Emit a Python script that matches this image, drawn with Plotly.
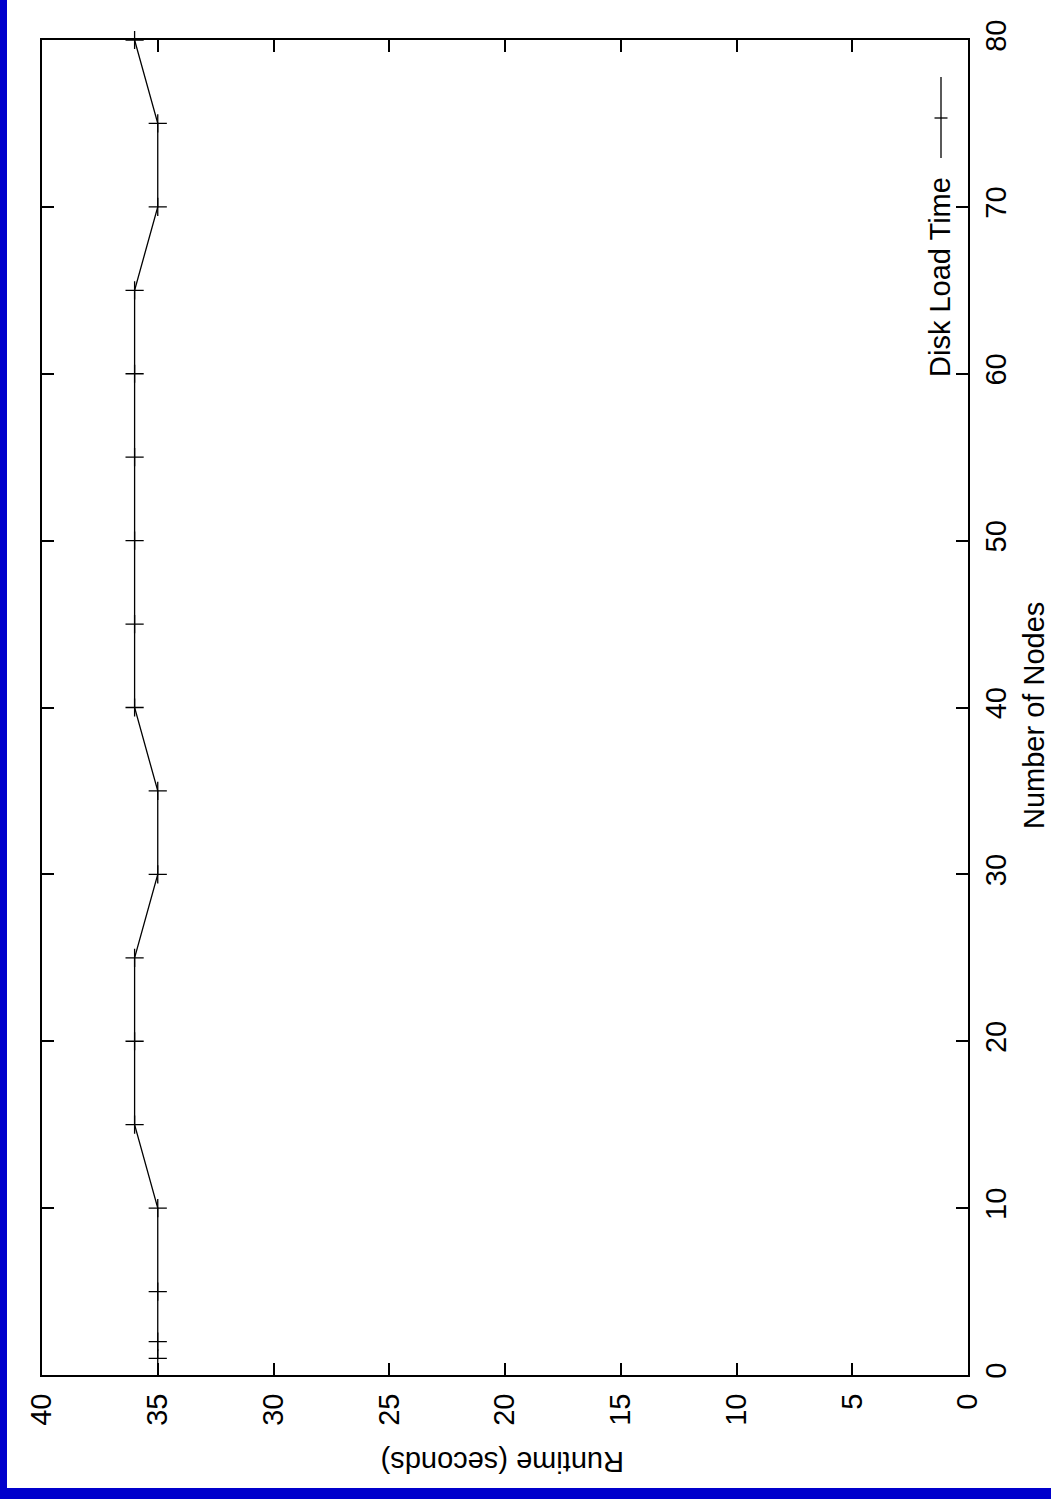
import plotly.graph_objects as go

# Data (Number of Nodes vs Runtime in seconds)
nodes = [1, 2, 5, 10, 15, 20, 25, 30, 35, 40, 45, 50, 55, 60, 65, 70, 75, 80]
runtime = [35, 35, 35, 35, 36, 36, 36, 35, 35, 36, 36, 36, 36, 36, 36, 35, 35, 36]
runtime_ticks = [0, 5, 10, 15, 20, 25, 30, 35, 40]
node_ticks = [0, 10, 20, 30, 40, 50, 60, 70, 80]
series_name = "Disk Load Time"
x_title = "Runtime (seconds)"
y_title = "Number of Nodes"

W, H = 1051, 1499
L, R, T, B = 42, 968, 40, 1375  # plot area in pixels
PW, PH = R - L, B - T


def fx(px):
    return (px - L) / PW


def fy(py):
    return (B - py) / PH


FONT = "Liberation Sans, Arial, Helvetica, sans-serif"
FS = 29
BLUE = "#0000cc"

fig = go.Figure()
fig.add_trace(go.Scatter(
    x=runtime, y=nodes, mode="lines+markers", name=series_name,
    line=dict(color="black", width=1.3),
    marker=dict(symbol="cross-thin", size=13, line=dict(color="black", width=1.3)),
    cliponaxis=False, showlegend=False,
))

axis_common = dict(
    showgrid=False, zeroline=False, showline=True, linecolor="black", linewidth=2,
    mirror="ticks", ticks="inside", ticklen=12, tickwidth=1.5, tickcolor="black",
    tickfont=dict(family=FONT, size=FS, color="black"), tickangle=-90,
)

fig.update_xaxes(range=[40, 0], tickvals=runtime_ticks, ticktext=[str(v) for v in runtime_ticks],
                 ticklabelstandoff=5, **axis_common)
fig.update_yaxes(range=[0, 80], side="right", tickvals=node_ticks, ticktext=[str(v) for v in node_ticks],
                 ticklabelstandoff=1, **axis_common)

shapes = [
    # blue frame strips (left and bottom)
    dict(type="rect", xref="paper", yref="paper", x0=fx(0), x1=fx(7), y0=fy(0), y1=fy(H),
         fillcolor=BLUE, line=dict(width=0), layer="above"),
    dict(type="rect", xref="paper", yref="paper", x0=fx(0), x1=fx(W), y0=fy(1488), y1=fy(H),
         fillcolor=BLUE, line=dict(width=0), layer="above"),
    # legend sample
    dict(type="line", xref="paper", yref="paper", x0=fx(941), x1=fx(941), y0=fy(77), y1=fy(158),
         line=dict(color="black", width=1.3)),
    dict(type="line", xref="paper", yref="paper", x0=fx(934.5), x1=fx(947.5), y0=fy(118), y1=fy(118),
         line=dict(color="black", width=1.3)),
]

annotations = [
    dict(text=series_name, xref="paper", yref="paper", x=fx(940), y=fy(277), showarrow=False,
         textangle=-90, font=dict(family=FONT, size=FS, color="black"), xanchor="center", yanchor="middle"),
    dict(text=y_title, xref="paper", yref="paper", x=fx(1034), y=fy(716), showarrow=False,
         textangle=-90, font=dict(family=FONT, size=FS, color="black"), xanchor="center", yanchor="middle"),
    dict(text=x_title, xref="paper", yref="paper", x=fx(503), y=fy(1462), showarrow=False,
         textangle=180, font=dict(family=FONT, size=FS, color="black"), xanchor="center", yanchor="middle"),
]

fig.update_layout(
    width=W, height=H, autosize=False,
    margin=dict(l=L, r=W - R, t=T, b=H - B, pad=0, autoexpand=False),
    paper_bgcolor="white", plot_bgcolor="white",
    shapes=shapes, annotations=annotations, showlegend=False,
)

fig.write_html("out.html", config={"displayModeBar": False},
               post_script="document.body.style.margin='0';document.body.style.overflow='hidden';")
